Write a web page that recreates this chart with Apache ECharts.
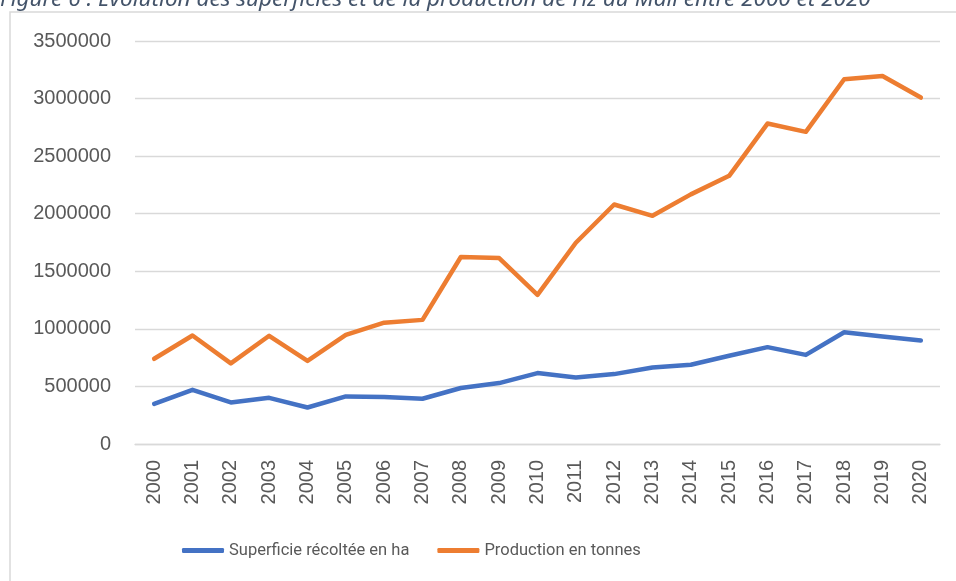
<!DOCTYPE html>
<html>
<head>
<meta charset="utf-8">
<script src="https://cdn.jsdelivr.net/npm/echarts@6/dist/echarts.min.js"></script>
<style>
  html, body { margin: 0; padding: 0; background: #fff; }
  #chart { width: 956px; height: 581px; }
</style>
</head>
<body>
<div id="chart"></div>
<script>
// années
const years = ['2000', '2001', '2002', '2003', '2004', '2005', '2006', '2007', '2008', '2009', '2010',
  '2011', '2012', '2013', '2014', '2015', '2016', '2017', '2018', '2019', '2020']

// superficie récoltée (ha)
const superficie = [349000, 471000, 361000, 401000, 317000, 413000, 408000, 393000, 486000, 529000, 616000,
  578000, 607000, 664000, 688000, 766000, 841000, 774000, 971000, 933000, 898000]

// production (tonnes)
const production = [740000, 942000, 700000, 940000, 722000, 948000, 1054000, 1078000, 1624000, 1615000, 1295000,
  1748000, 2080000, 1982000, 2168000, 2329000, 2783000, 2711000, 3168000, 3196000, 3009000]

const yTicks = [0, 500000, 1000000, 1500000, 2000000, 2500000, 3000000, 3500000]

const titleText = 'Figure 6 : Evolution des superficies et de la production de riz au Mali entre 2000 et 2020'

const chart = echarts.init(document.getElementById('chart'))

const option = {
  animation: false,
  backgroundColor: '#fff',
  graphic: [
    {
      type: 'rect',
      shape: { x: 10, y: 12, width: 960, height: 600 },
      style: { fill: 'none', stroke: '#d9d9d9', lineWidth: 1.5 },
      silent: true
    },
    {
      type: 'text',
      left: 0,
      top: -12,
      style: {
        text: titleText,
        fontFamily: 'Noto Sans',
        fontStyle: 'italic',
        fontSize: 22.5,
        fill: '#44546A'
      }
    }
  ],
  grid: {
    left: 135,
    right: 16,
    top: 41,
    bottom: 137
  },
  legend: {
    data: ['Superficie récoltée en ha', 'Production en tonnes'],
    left: 177,
    top: 537,
    itemWidth: 42,
    itemHeight: 5,
    itemGap: 28,
    icon: 'roundRect',
    textStyle: {
      fontFamily: 'Roboto',
      fontSize: 16.5,
      color: '#595959'
    }
  },
  xAxis: {
    type: 'category',
    data: years,
    boundaryGap: true,
    axisLine: { lineStyle: { color: '#d9d9d9', width: 1.3 } },
    axisTick: { show: false },
    axisLabel: {
      rotate: 90,
      margin: 16,
      fontFamily: 'Liberation Sans',
      fontSize: 20,
      color: '#595959'
    }
  },
  yAxis: {
    type: 'value',
    min: 0,
    max: 3500000,
    interval: 500000,
    axisLine: { show: false },
    axisTick: { show: false },
    splitLine: { lineStyle: { color: '#d9d9d9', width: 1.3 } },
    axisLabel: {
      margin: 24,
      fontFamily: 'Liberation Sans',
      fontSize: 20,
      color: '#595959',
      formatter: v => (yTicks.includes(v) ? String(v) : '')
    }
  },
  series: [
    {
      name: 'Superficie récoltée en ha',
      type: 'line',
      data: superficie,
      symbol: 'none',
      lineStyle: { color: '#4472C4', width: 4.5, cap: 'round', join: 'round' },
      itemStyle: { color: '#4472C4' }
    },
    {
      name: 'Production en tonnes',
      type: 'line',
      data: production,
      symbol: 'none',
      lineStyle: { color: '#ED7D31', width: 4.5, cap: 'round', join: 'round' },
      itemStyle: { color: '#ED7D31' }
    }
  ]
}

chart.setOption(option)
</script>
</body>
</html>
